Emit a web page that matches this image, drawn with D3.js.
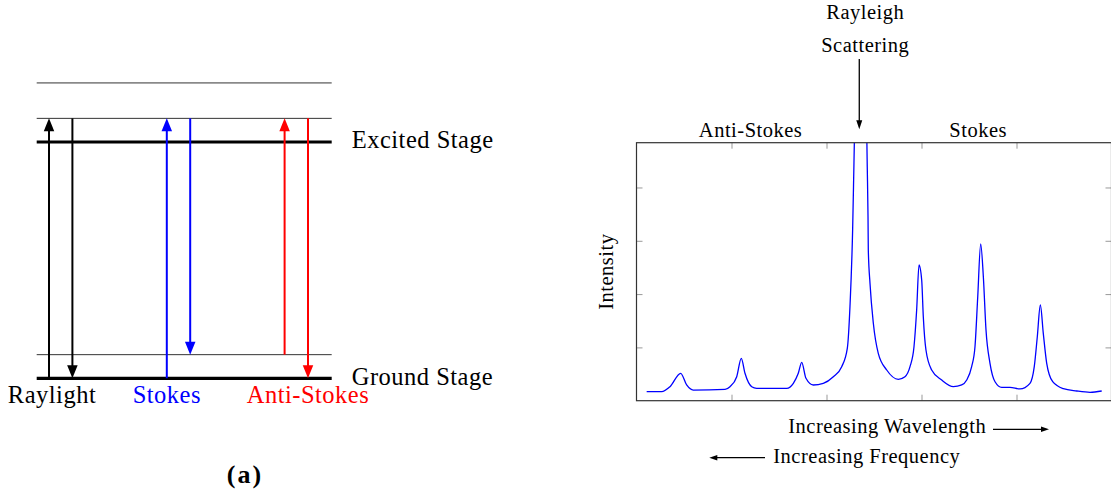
<!DOCTYPE html>
<html>
<head>
<meta charset="utf-8">
<script src="https://cdn.jsdelivr.net/npm/d3@7"></script>
<style>
body { margin: 0; background: #fff; }
</style>
</head>
<body>
<svg id="chart" width="1111" height="492"></svg>
<script>
// ---- left diagram: energy levels (arbitrary units) ----
const levelEnergy = [0, 0.1, 1.0, 1.1, 1.25];
const levelThick = [true, false, true, false, false];
const levelLabels = ["Ground Stage", "", "Excited Stage", "", ""];

// transitions: group, side (0 = up / absorption, 1 = down / emission), from, to
const groups = ["Raylight", "Stokes", "Anti-Stokes"];
const groupColors = ["black", "blue", "red"];
const transGroup = ["Raylight", "Raylight", "Stokes", "Stokes", "Anti-Stokes", "Anti-Stokes"];
const transSide = [0, 1, 0, 1, 0, 1];
const transFrom = [0, 1.1, 0, 1.1, 0.1, 1.1];
const transTo = [1.1, 0, 1.1, 0.1, 1.1, 0];

// ---- right plot: spectrum (x in tick units, y in tick units) ----
const specX = [0.107, 0.265, 0.353, 0.465, 0.528, 0.598, 0.932, 0.984, 1.055, 1.103,
  1.142, 1.213, 1.265, 1.581, 1.651, 1.703, 1.739, 1.784, 1.861, 1.966,
  2.072, 2.16, 2.219, 2.247, 2.275, 2.289, 2.36, 2.429, 2.437, 2.44,
  2.458, 2.493, 2.545, 2.634, 2.756, 2.826, 2.879, 2.921, 2.949, 2.974,
  3.002, 3.019, 3.047, 3.107, 3.213, 3.335, 3.423, 3.476, 3.528, 3.563,
  3.592, 3.623, 3.651, 3.679, 3.721, 3.774, 3.844, 3.932, 4.037, 4.142,
  4.187, 4.219, 4.251, 4.282, 4.318, 4.381, 4.493, 4.634, 4.774, 4.897];
const specY = [0.169, 0.169, 0.263, 0.514, 0.295, 0.20, 0.214, 0.263, 0.45, 0.795,
  0.514, 0.263, 0.233, 0.233, 0.326, 0.514, 0.72, 0.42, 0.295, 0.326,
  0.45, 0.638, 0.983, 1.764, 3.2, 4.45, 11, 4.39, 3.45, 2.83,
  2.20, 1.452, 0.889, 0.576, 0.401, 0.45, 0.638, 1.013, 1.70, 2.546,
  2.264, 1.576, 0.951, 0.576, 0.388, 0.263, 0.295, 0.388, 0.638, 1.013,
  1.951, 2.94, 2.326, 1.326, 0.702, 0.356, 0.251, 0.251, 0.22, 0.326,
  0.638, 1.20, 1.795, 1.264, 0.702, 0.356, 0.225, 0.182, 0.158, 0.182];
const xTicks = [1, 2, 3, 4];
const yTicks = [1, 2, 3, 4];
const rayleighX = 2.345;
const regionLabels = ["Anti-Stokes", "Stokes"];
const regionX = [1.201, 3.597];

const serif = "'Liberation Serif', 'Times New Roman', Times, 'DejaVu Serif', serif";
const svg = d3.select("#chart").style("font-family", serif);

// text helper; the reference font (Computer Modern) runs wider, hence the letter spacing
function label(g, txt, size) {
    return g.append("text")
        .style("font-family", serif)
        .attr("font-size", size)
        .attr("letter-spacing", 0.5)
        .text(txt);
}

function arrow(g, x1, y1, x2, y2, color, w, hl, hw) {
    const dx = x2 - x1, dy = y2 - y1, len = Math.hypot(dx, dy);
    const ux = dx / len, uy = dy / len;
    const bx = x2 - ux * hl, by = y2 - uy * hl;
    g.append("line")
        .attr("x1", x1).attr("y1", y1)
        .attr("x2", x2 - ux * hl * 0.5).attr("y2", y2 - uy * hl * 0.5)
        .attr("stroke", color).attr("stroke-width", w);
    g.append("path")
        .attr("d", `M${x2},${y2}L${bx - uy * hw / 2},${by + ux * hw / 2}L${bx + uy * hw / 2},${by - ux * hw / 2}Z`)
        .attr("fill", color);
}

// ================= left diagram =================
const left = svg.append("g");
const yE = d3.scaleLinear().domain([0, 1]).range([378.3, 142]);
const xG = d3.scalePoint().domain(groups).range([60.7, 296.3]);
const lx0 = 36.7, lx1 = 331.7;

levelEnergy.forEach((e, i) => {
    left.append("line")
        .attr("x1", lx0).attr("x2", lx1)
        .attr("y1", yE(e)).attr("y2", yE(e))
        .attr("stroke", levelThick[i] ? "#000" : "#333")
        .attr("stroke-width", levelThick[i] ? 3.2 : 1);
    if (levelLabels[i]) {
        label(left, levelLabels[i], 24.5)
            .attr("x", lx1 + 20)
            .attr("y", yE(e) + 6.3);
    }
});

transGroup.forEach((gname, i) => {
    const color = groupColors[groups.indexOf(gname)];
    const x = xG(gname) + (transSide[i] === 0 ? -11.7 : 11.7);
    arrow(left, x, yE(transFrom[i]), x, yE(transTo[i]), color, 2, 13, 10.5);
});

groups.forEach((gname, gi) => {
    // label sits under the arrow that touches the ground level
    const idx = transGroup.findIndex((g, i) => g === gname && (transFrom[i] === 0 || transTo[i] === 0));
    const x = xG(gname) + (transSide[idx] === 0 ? -11.7 : 11.7);
    label(left, gname, 24.5)
        .attr("x", x + (gi === 0 ? 3 : 0))
        .attr("y", 403.3)
        .attr("text-anchor", "middle")
        .attr("fill", groupColors[gi]);
});

label(left, "(a)", 26)
    .attr("x", 245)
    .attr("y", 483)
    .attr("text-anchor", "middle")
    .attr("letter-spacing", 2)
    .attr("font-weight", "bold");

// ================= right plot =================
const right = svg.append("g");
const x = d3.scaleLinear().domain([0, 5]).range([636.5, 1111.5]);
const y = d3.scaleLinear().domain([0, 4.84]).range([400.7, 142.7]);

right.append("clipPath").attr("id", "plotClip")
    .append("rect")
    .attr("x", x(0)).attr("y", y(4.84))
    .attr("width", x(5) - x(0)).attr("height", y(0) - y(4.84));

const tickStyle = g => {
    g.select(".domain").remove();
    g.selectAll(".tick line").attr("stroke", "#999").attr("stroke-width", 1);
};
right.append("g").attr("transform", `translate(0,${y(0)})`)
    .call(d3.axisBottom(x).tickValues(xTicks).tickSize(-6).tickFormat("")).call(tickStyle);
right.append("g").attr("transform", `translate(0,${y(4.84)})`)
    .call(d3.axisTop(x).tickValues(xTicks).tickSize(-6).tickFormat("")).call(tickStyle);
right.append("g").attr("transform", `translate(${x(0)},0)`)
    .call(d3.axisLeft(y).tickValues(yTicks).tickSize(-6).tickFormat("")).call(tickStyle);
right.append("g").attr("transform", `translate(${x(5)},0)`)
    .call(d3.axisRight(y).tickValues(yTicks).tickSize(-6).tickFormat("")).call(tickStyle);

const spec = specX.map((v, i) => [v, specY[i]]);
right.append("path")
    .datum(spec)
    .attr("clip-path", "url(#plotClip)")
    .attr("fill", "none")
    .attr("stroke", "#0000ff")
    .attr("stroke-width", 1.3)
    .attr("stroke-linejoin", "round")
    .attr("d", d3.line().curve(d3.curveMonotoneX).x(d => x(d[0])).y(d => y(d[1])));

right.append("rect")
    .attr("x", x(0)).attr("y", y(4.84))
    .attr("width", x(5) - x(0)).attr("height", y(0) - y(4.84))
    .attr("fill", "none")
    .attr("stroke", "#333")
    .attr("stroke-width", 1.2);

// annotations
label(right, "Rayleigh", 20.5)
    .attr("x", x(rayleighX) + 6).attr("y", 19.3)
    .attr("text-anchor", "middle");
label(right, "Scattering", 20.5)
    .attr("x", x(rayleighX) + 6).attr("y", 51.7)
    .attr("text-anchor", "middle");
arrow(right, x(rayleighX), 59, x(rayleighX), 129.3, "#000", 1.3, 9, 6);

regionLabels.forEach((t, i) => {
    label(right, t, 20.5)
        .attr("x", x(regionX[i])).attr("y", 137.3)
        .attr("text-anchor", "middle");
});

label(right, "Increasing Wavelength", 20.5)
    .attr("x", 788.3).attr("y", 433.3);
arrow(right, 993, 429.3, 1049, 429.3, "#000", 1.3, 8, 5.5);

label(right, "Increasing Frequency", 20.5)
    .attr("x", 773.3).attr("y", 463.3);
arrow(right, 765, 457.7, 709.3, 457.7, "#000", 1.3, 8, 5.5);

label(right, "Intensity", 20.5)
    .attr("transform", `translate(613,${(y(0) + y(4.84)) / 2}) rotate(-90)`)
    .attr("text-anchor", "middle");
</script>
</body>
</html>
